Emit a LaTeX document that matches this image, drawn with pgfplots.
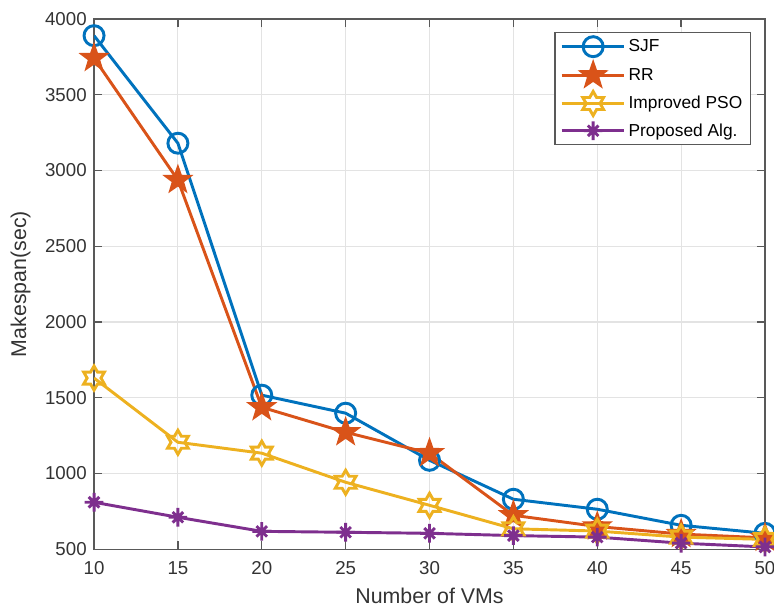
\documentclass[border=0pt]{standalone}
\usepackage{fontspec}
\setmainfont{Liberation Sans}
\setsansfont{Liberation Sans}
\usepackage{pgfplots}
\pgfplotsset{compat=1.18}
\definecolor{c1}{rgb}{0,0.447,0.741}
\definecolor{c2}{rgb}{0.85,0.325,0.098}
\definecolor{c3}{rgb}{0.929,0.694,0.125}
\definecolor{c4}{rgb}{0.494,0.184,0.556}
\pgfdeclareplotmark{pentagram}{%
  \pgfpathmoveto{\pgfpointpolar{90}{\pgfplotmarksize}}%
  \pgfpathlineto{\pgfpointpolar{126}{0.40*\pgfplotmarksize}}%
  \pgfpathlineto{\pgfpointpolar{162}{\pgfplotmarksize}}%
  \pgfpathlineto{\pgfpointpolar{198}{0.40*\pgfplotmarksize}}%
  \pgfpathlineto{\pgfpointpolar{234}{\pgfplotmarksize}}%
  \pgfpathlineto{\pgfpointpolar{270}{0.40*\pgfplotmarksize}}%
  \pgfpathlineto{\pgfpointpolar{306}{\pgfplotmarksize}}%
  \pgfpathlineto{\pgfpointpolar{342}{0.40*\pgfplotmarksize}}%
  \pgfpathlineto{\pgfpointpolar{18}{\pgfplotmarksize}}%
  \pgfpathlineto{\pgfpointpolar{54}{0.40*\pgfplotmarksize}}%
  \pgfpathclose
  \pgfusepathqfillstroke
}
\pgfdeclareplotmark{hexagram}{%
  \pgfpathmoveto{\pgfpointpolar{90}{\pgfplotmarksize}}%
  \pgfpathlineto{\pgfpointpolar{120}{0.577*\pgfplotmarksize}}%
  \pgfpathlineto{\pgfpointpolar{150}{\pgfplotmarksize}}%
  \pgfpathlineto{\pgfpointpolar{180}{0.577*\pgfplotmarksize}}%
  \pgfpathlineto{\pgfpointpolar{210}{\pgfplotmarksize}}%
  \pgfpathlineto{\pgfpointpolar{240}{0.577*\pgfplotmarksize}}%
  \pgfpathlineto{\pgfpointpolar{270}{\pgfplotmarksize}}%
  \pgfpathlineto{\pgfpointpolar{300}{0.577*\pgfplotmarksize}}%
  \pgfpathlineto{\pgfpointpolar{330}{\pgfplotmarksize}}%
  \pgfpathlineto{\pgfpointpolar{0}{0.577*\pgfplotmarksize}}%
  \pgfpathlineto{\pgfpointpolar{30}{\pgfplotmarksize}}%
  \pgfpathlineto{\pgfpointpolar{60}{0.577*\pgfplotmarksize}}%
  \pgfpathclose
  \pgfusepathqstroke
}
\pgfdeclareplotmark{star8}{%
  \pgfpathmoveto{\pgfpointpolar{0}{\pgfplotmarksize}}\pgfpathlineto{\pgfpointpolar{180}{\pgfplotmarksize}}%
  \pgfpathmoveto{\pgfpointpolar{90}{\pgfplotmarksize}}\pgfpathlineto{\pgfpointpolar{270}{\pgfplotmarksize}}%
  \pgfpathmoveto{\pgfpointpolar{45}{0.8*\pgfplotmarksize}}\pgfpathlineto{\pgfpointpolar{225}{0.8*\pgfplotmarksize}}%
  \pgfpathmoveto{\pgfpointpolar{135}{0.8*\pgfplotmarksize}}\pgfpathlineto{\pgfpointpolar{315}{0.8*\pgfplotmarksize}}%
  \pgfusepathqstroke
}
\begin{document}
\begin{tikzpicture}
\begin{axis}[
  scale only axis,
  width=503pt, height=397.5pt,
  xmin=10, xmax=50, ymin=500, ymax=4000,
  xtick={10,15,...,50}, ytick={500,1000,...,4000},
  grid=major,
  major grid style={gray!22, line width=0.8pt},
  axis line style={black!65, line width=1pt},
  tick style={black!65, line width=1pt},
  tick align=inside,
  major tick length=6pt,
  /pgf/number format/assume math mode=true,
  /pgf/number format/1000 sep={},
  tick label style={font=\fontsize{14}{16}\selectfont, black!80},
  xticklabel style={yshift=-6pt},
  yticklabel style={xshift=-2pt},
  label style={font=\fontsize{16}{18}\selectfont, black!80},
  xlabel={Number of VMs},
  ylabel={Makespan(sec)},
  xlabel style={yshift=-3pt},
  ylabel style={yshift=4pt},
  legend style={at={(rel axis cs:1,1)}, xshift=-10.5pt, yshift=-9.75pt, anchor=north east,
    font=\fontsize{13}{15}\selectfont, draw=black!65, line width=1pt,
    row sep=4pt, inner sep=3pt, inner xsep=4pt},
  legend cell align=left,
  legend image code/.code={
    \draw[#1] (0cm,0cm) -- (1.65cm,0cm);
    \draw[#1, mark repeat=2, mark phase=2] plot coordinates {(0cm,0cm) (0.825cm,0cm) (1.65cm,0cm)};
  },
  every axis plot/.append style={line width=2.2pt},
]
\addplot[c1, mark=o, mark size=7.5pt, mark options={line width=2.2pt}] coordinates {
(10,3890) (15,3180) (20,1517) (25,1398) (30,1087) (35,830) (40,764) (45,658) (50,605)};
\addlegendentry{SJF}
\addplot[c2, mark=pentagram, mark size=10pt, mark options={line width=1.5pt, fill=c2, line join=miter}] coordinates {
(10,3742) (15,2937) (20,1437) (25,1272) (30,1134) (35,724) (40,650) (45,600) (50,575)};
\addlegendentry{RR}
\addplot[c3, mark=hexagram, mark size=9pt, mark options={line width=2.2pt}] coordinates {
(10,1630) (15,1206) (20,1134) (25,942) (30,790) (35,635) (40,620) (45,580) (50,565)};
\addlegendentry{Improved PSO}
\addplot[c4, mark=star8, mark size=7pt, mark options={line width=2.2pt}] coordinates {
(10,810) (15,711) (20,618) (25,612) (30,605) (35,590) (40,580) (45,540) (50,515)};
\addlegendentry{Proposed Alg.}
\end{axis}
\pgfresetboundingbox
\useasboundingbox ([shift={(-70.5pt,-47.25pt)}]current axis.south west) rectangle ([shift={(6.75pt,14.25pt)}]current axis.north east);
\end{tikzpicture}
\end{document}
